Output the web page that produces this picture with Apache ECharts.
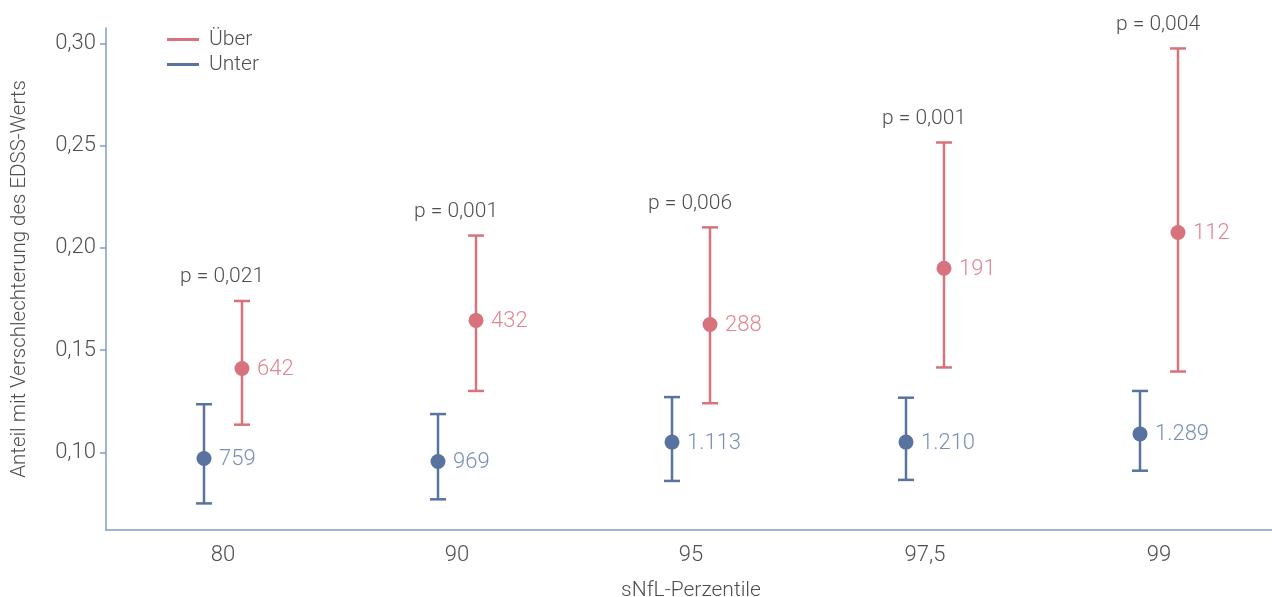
<!DOCTYPE html>
<html>
<head>
<meta charset="utf-8">
<script src="https://cdn.jsdelivr.net/npm/echarts@6/dist/echarts.min.js"></script>
<style>
html,body{margin:0;padding:0;background:#fff;}
#chart{width:1272px;height:597px;}
</style>
</head>
<body>
<div id="chart"></div>
<script>
var categories = ['80', '90', '95', '97,5', '99'];
var ueberMean = [0.141, 0.1645, 0.1625, 0.190, 0.2075];
var ueberLow = [0.1135, 0.130, 0.124, 0.1415, 0.1395];
var ueberHigh = [0.174, 0.206, 0.210, 0.2515, 0.2975];
var ueberN = ['642', '432', '288', '191', '112'];
var unterMean = [0.097, 0.0955, 0.105, 0.105, 0.109];
var unterLow = [0.075, 0.077, 0.086, 0.0865, 0.091];
var unterHigh = [0.1235, 0.1187, 0.127, 0.1267, 0.130];
var unterN = ['759', '969', '1.113', '1.210', '1.289'];
var pValues = ['p = 0,021', 'p = 0,001', 'p = 0,006', 'p = 0,001', 'p = 0,004'];
var yTicks = [0.10, 0.15, 0.20, 0.25, 0.30];

var FONT = 'Roboto';
var RED = '#d6737c', RED_LABEL = '#e08790';
var BLUE = '#5873a0', BLUE_LABEL = '#7890b8';
var AXIS = '#819dc2', TEXT = '#4f4f4f';

function build(mean, low, high) {
  return mean.map(function (m, i) { return [i, m, low[i], high[i]]; });
}

function makeRender(color, labelColor, labels, offset, withP) {
  return function (params, api) {
    var idx = params.dataIndex;
    var i = api.value(0);
    var pm = api.coord([i, api.value(1)]);
    var pl = api.coord([i, api.value(2)]);
    var ph = api.coord([i, api.value(3)]);
    var x = pm[0] + offset;
    var cap = 8;
    var ls = { stroke: color, lineWidth: 2.5 };
    var children = [
      { type: 'line', shape: { x1: x, y1: ph[1], x2: x, y2: pl[1] }, style: ls },
      { type: 'line', shape: { x1: x - cap, y1: ph[1], x2: x + cap, y2: ph[1] }, style: ls },
      { type: 'line', shape: { x1: x - cap, y1: pl[1], x2: x + cap, y2: pl[1] }, style: ls },
      { type: 'circle', shape: { cx: x, cy: pm[1], r: 7.5 }, style: { fill: color } },
      { type: 'text', x: x + 15, y: pm[1] + 1, style: {
          text: labels[idx], fill: labelColor, font: '300 22px ' + FONT,
          textVerticalAlign: 'middle', textAlign: 'left' } }
    ];
    if (withP) {
      children.push({ type: 'text', x: pm[0] - 1, y: ph[1] - 24, style: {
        text: pValues[idx], fill: TEXT, font: '300 21px ' + FONT,
        textAlign: 'center', textVerticalAlign: 'middle' } });
    }
    return { type: 'group', children: children };
  };
}

var chart = echarts.init(document.getElementById('chart'));
chart.setOption({
  animation: false,
  color: [RED, BLUE],
  textStyle: { fontFamily: FONT, fontWeight: 300 },
  grid: { left: 106, width: 1170, top: 28, bottom: 67, containLabel: false, outerBoundsMode: 'none' },
  legend: {
    orient: 'vertical', left: 162, top: 24, itemGap: 4,
    itemWidth: 32, itemHeight: 3, icon: 'rect',
    textStyle: { fontSize: 21, color: TEXT, fontFamily: FONT, fontWeight: 300, padding: [0, 0, 0, 5] },
    data: ['Über', 'Unter']
  },
  xAxis: {
    type: 'category', data: categories,
    name: 'sNfL-Perzentile', nameLocation: 'middle', nameGap: 50,
    nameTextStyle: { fontSize: 21, color: TEXT, fontFamily: FONT, fontWeight: 300 },
    axisLine: { lineStyle: { color: AXIS, width: 1.5 } },
    axisTick: { alignWithLabel: true, length: 6, lineStyle: { color: AXIS, width: 1.5 } },
    axisLabel: { fontSize: 22, color: TEXT, margin: 14, fontFamily: FONT, fontWeight: 300 },
    splitLine: { show: false }
  },
  yAxis: {
    type: 'value', min: 0.062, max: 0.3075,
    name: 'Anteil mit Verschlechterung des EDSS-Werts', nameLocation: 'middle', nameGap: 76,
    nameTextStyle: { fontSize: 20.5, color: TEXT, fontFamily: FONT, fontWeight: 300 },
    axisLine: { show: true, lineStyle: { color: AXIS, width: 1.5 } },
    axisTick: { show: true, length: 6, customValues: yTicks, lineStyle: { color: AXIS, width: 1.5 } },
    axisLabel: { fontSize: 22, color: TEXT, margin: 10, customValues: yTicks, fontFamily: FONT, fontWeight: 300,
      formatter: function (v) { return v.toFixed(2).replace('.', ','); } },
    splitLine: { show: false }
  },
  series: [
    { name: 'Über', type: 'custom', data: build(ueberMean, ueberLow, ueberHigh),
      renderItem: makeRender(RED, RED_LABEL, ueberN, 19, true), encode: { x: 0, y: [1, 2, 3] }, z: 3 },
    { name: 'Unter', type: 'custom', data: build(unterMean, unterLow, unterHigh),
      renderItem: makeRender(BLUE, BLUE_LABEL, unterN, -19, false), encode: { x: 0, y: [1, 2, 3] }, z: 2 }
  ]
});
</script>
</body>
</html>
